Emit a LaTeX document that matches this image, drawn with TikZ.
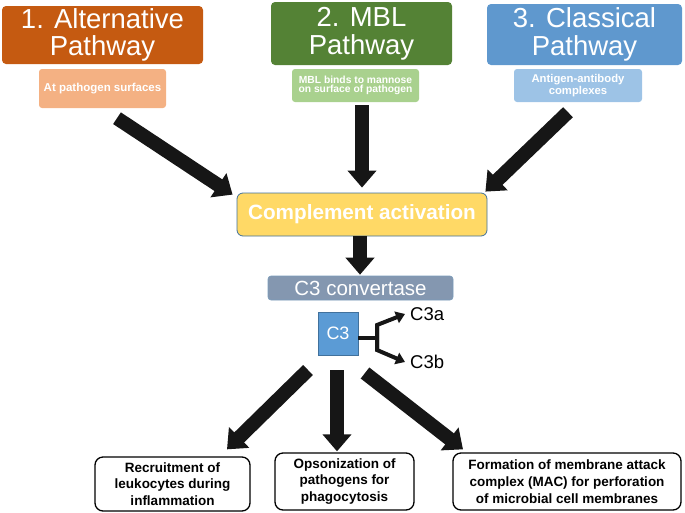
\documentclass[tikz,border=0pt]{standalone}
\usepackage{fontspec}
\setmainfont{Liberation Sans}
\usetikzlibrary{arrows.meta,calc}
\definecolor{cOrange}{HTML}{C55A11}
\definecolor{cOrangeL}{HTML}{F4B183}
\definecolor{cGreen}{HTML}{548235}
\definecolor{cGreenL}{HTML}{A9D18E}
\definecolor{cBlue}{HTML}{5F98CE}
\definecolor{cBlueL}{HTML}{9DC3E6}
\definecolor{cYellow}{HTML}{FFD966}
\definecolor{cBorder}{HTML}{41719C}
\definecolor{cConv}{HTML}{8497B0}
\definecolor{cC3}{HTML}{5B9BD5}
\definecolor{cArrow}{HTML}{161616}
\tikzset{
  title/.style={rounded corners=4pt, inner sep=0pt, text=white, align=center,
    font=\fontsize{27.5}{27.5}\selectfont},
  subbox/.style={rounded corners=3pt, inner sep=0pt, text=white, align=center,
    font=\bfseries\fontsize{10.3}{9.5}\selectfont},
  outbox/.style={draw=black, line width=1.3pt, rounded corners=8pt, inner sep=0pt,
    fill=white, text=black, align=center, font=\bfseries\fontsize{13.5}{16.8}\selectfont},
  fat/.style={draw=cArrow, line width=14pt, -{Triangle[width=28pt,length=17pt]}},
  fork/.style={draw=cArrow, line width=4pt, -{Triangle[width=12pt,length=9pt]}},
}
\begin{document}
\begin{tikzpicture}[x=1pt,y=-1pt]
\useasboundingbox (0,0) rectangle (685,512);
% top titles
\node[title, fill=cOrange, minimum width=201pt, minimum height=58pt] (t1) at (102.5,35) {1. Alternative\\Pathway};
\node[title, fill=cGreen, minimum width=181pt, minimum height=63pt] (t2) at (361.5,33.5) {2. MBL\\Pathway};
\node[title, fill=cBlue, minimum width=195pt, minimum height=61pt] (t3) at (584.5,34.5) {3. Classical\\Pathway};
% sub boxes
\node[subbox, fill=cOrangeL, minimum width=127pt, minimum height=39pt, font=\bfseries\fontsize{11.5}{12}\selectfont] (s1) at (102.5,88.5) {At pathogen surfaces};
\node[subbox, fill=cGreenL, minimum width=127pt, minimum height=33pt] (s2) at (355.5,85.5) {MBL binds to mannose\\on surface of pathogen};
\node[subbox, fill=cBlueL, minimum width=128pt, minimum height=33pt, font=\bfseries\fontsize{11.3}{11.5}\selectfont] (s3) at (578,85.5) {Antigen-antibody\\complexes};
% complement
\node[draw=cBorder, line width=0.8pt, fill=cYellow, rounded corners=6pt, minimum width=250pt, minimum height=43pt, inner sep=0pt, text=white, font=\bfseries\fontsize{20.7}{24}\selectfont] (comp) at (362,214.5) {Complement activation};
\node[draw=cBorder!70, line width=0.6pt, fill=cConv, rounded corners=3pt, minimum width=185pt, minimum height=24pt, inner sep=0pt, text=white, font=\fontsize{20.5}{22}\selectfont] (conv) at (360.5,288) {C3 convertase};
\node[draw=cBorder, line width=0.6pt, fill=cC3, minimum width=40pt, minimum height=43pt, inner sep=0pt, text=white, font=\fontsize{18}{20}\selectfont] (c3) at (338,333.5) {C3};
\node[anchor=west, inner sep=0pt, font=\fontsize{18.5}{20}\selectfont] (c3a) at (410,314) {C3a};
\node[anchor=west, inner sep=0pt, font=\fontsize{18.5}{20}\selectfont] (c3b) at (410,362) {C3b};
% bottom boxes
\node[outbox, minimum width=155pt, minimum height=54pt] (b1) at (172.5,484) {Recruitment of\\leukocytes during\\inflammation};
\node[outbox, minimum width=139pt, minimum height=57pt] (b2) at (344.5,481.5) {Opsonization of\\pathogens for\\phagocytosis};
\node[outbox, minimum width=228pt, minimum height=57pt] (b3) at (567,481.5) {Formation of membrane attack\\complex (MAC) for perforation\\of microbial cell membranes};
% top arrows
\draw[fat] ([xshift=14.5pt,yshift=-10pt]s1.south) -- ([xshift=-4pt,yshift=-2pt]comp.north west);
\draw[fat] ([yshift=-3pt]s2.south -| comp.north) -- ([yshift=5pt]comp.north);
\draw[fat] ([xshift=-10pt,yshift=-10pt]s3.south) -- ([xshift=-2pt,yshift=1pt]comp.north east);
\draw[fat] ([xshift=-2pt]comp.south) -- ([xshift=-0.5pt,yshift=1pt]conv.north);
% fork
\coordinate (fk) at (377,338);
\draw[draw=cArrow, line width=4pt] (c3.east |- fk) -- (fk);
\draw[fork] (377,351) -- (377,325) -- ([xshift=-5pt]c3a.west);
\draw[fork] (377,327) -- (377,350) -- ([xshift=-5pt]c3b.west);
% bottom arrows
\coordinate (a1) at (308,370);
\coordinate (a2) at (337,370);
\coordinate (a3) at (365,373);
\draw[fat] (a1) -- ([xshift=54.5pt,yshift=7pt]b1.north);
\draw[fat] (a2) -- ([xshift=-7.5pt,yshift=1pt]b2.north);
\draw[fat] (a3) -- ([xshift=-104pt,yshift=3pt]b3.north);
\end{tikzpicture}
\end{document}
